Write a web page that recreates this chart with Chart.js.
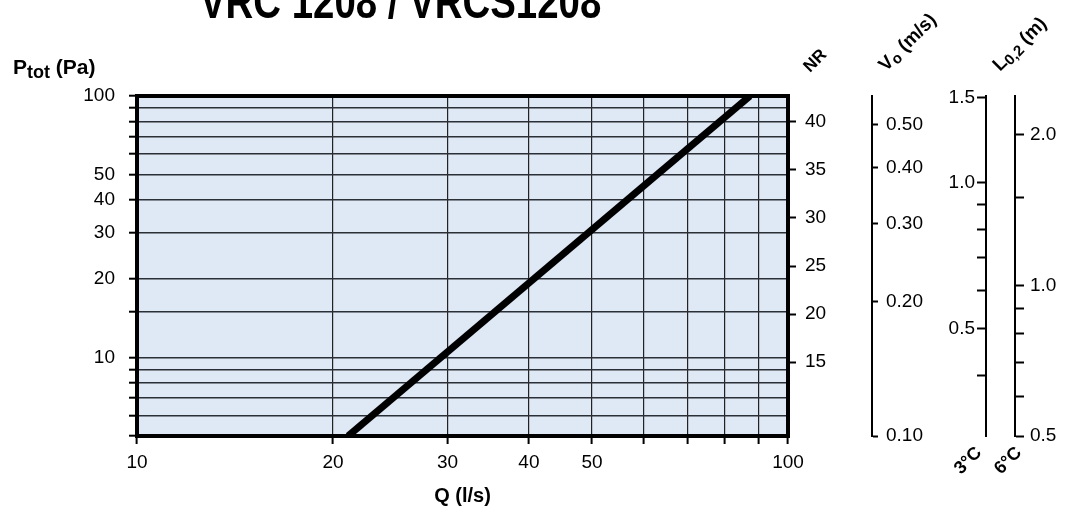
<!DOCTYPE html>
<html>
<head>
<meta charset="utf-8">
<script src="https://cdn.jsdelivr.net/npm/chart.js@4.4.1/dist/chart.umd.min.js"></script>
<style>
  html, body { margin: 0; padding: 0; background: #fff; }
</style>
</head>
<body>
<canvas id="chartCanvas" width="1072" height="513"></canvas>
<script>
// pressure line: Q (l/s) -> Ptot (Pa)
const lineQ = [21.1, 87.4];
const lineP = [5, 100];

const qTicks = [10, 20, 30, 40, 50, 60, 70, 80, 90, 100];
const qLabels = [10, 20, 30, 40, 50, 100];
const pTicks = [5, 6, 7, 8, 9, 10, 15, 20, 30, 40, 50, 60, 70, 80, 90, 100];
const pLabels = [10, 20, 30, 40, 50, 100];

// side scales
const nrTicks = [15, 20, 25, 30, 35, 40];
const nrRange = [7.3, 42.7];
const voTicks = [0.1, 0.2, 0.3, 0.4, 0.5];
const voRange = [0.1, 0.58];
const l3Ticks = [0.4, 0.5, 0.6, 0.7, 0.8, 0.9, 1.0, 1.5];
const l3Labels = [0.5, 1.0, 1.5];
const l3Range = [0.305, 1.51];
const l6Ticks = [0.5, 0.6, 0.7, 0.8, 0.9, 1.0, 1.5, 2.0];
const l6Labels = [0.5, 1.0, 2.0];
const l6Range = [0.5, 2.39];

const FONT = '"Liberation Sans", Arial, sans-serif';
const tickFont = { family: FONT, size: 19 };

const setTicks = list => scale => { scale.ticks = list.map(v => ({ value: v })); };
const setWidth = w => scale => { scale.width = w; };
const labelsFor = (list, digits) => v => list.includes(v) ? v.toFixed(digits) : '';

function sideAxis(type, range, ticks, fmt, width, weight, extra) {
  return Object.assign({
    type: type,
    axis: 'y',
    position: 'right',
    weight: weight,
    min: range[0],
    max: range[1],
    afterBuildTicks: setTicks(ticks),
    afterFit: setWidth(width),
    grid: { drawOnChartArea: false, drawTicks: true, tickLength: 6, tickWidth: 2, tickColor: '#000' },
    border: { display: true, color: '#000', width: 2 },
    ticks: { font: tickFont, color: '#000', padding: 8, autoSkip: false, callback: fmt }
  }, extra || {});
}

function rotText(ctx, parts, x, y) {
  ctx.save();
  ctx.translate(x, y);
  ctx.rotate(-Math.PI / 4);
  ctx.fillStyle = '#000';
  ctx.textBaseline = 'alphabetic';
  let cx = 0;
  for (const [t, size, dy] of parts) {
    ctx.font = 'bold ' + size + 'px ' + FONT;
    ctx.fillText(t, cx, dy);
    cx += ctx.measureText(t).width;
  }
  ctx.restore();
}

const decor = {
  id: 'decor',
  beforeDraw(chart) {
    const { ctx, chartArea: a } = chart;
    ctx.save();
    ctx.fillStyle = '#dfe8f5';
    ctx.fillRect(a.left, a.top, a.right - a.left, a.bottom - a.top);
    ctx.restore();
  },
  afterDatasetsDraw(chart) {
    const { ctx, chartArea: a } = chart;
    ctx.save();
    ctx.strokeStyle = '#000';
    ctx.lineWidth = 4;
    ctx.strokeRect(a.left, a.top, a.right - a.left, a.bottom - a.top);
    ctx.restore();
  },
  afterDraw(chart) {
    const ctx = chart.ctx;
    // title, mostly cut off at the top edge
    ctx.save();
    ctx.fillStyle = '#000';
    ctx.translate(200, 18);
    ctx.scale(0.8, 1);
    ctx.font = 'bold 48px ' + FONT;
    ctx.fillText('VRC 1208 / VRCS1208', 0, 0);
    ctx.restore();

    // Ptot (Pa)
    ctx.save();
    ctx.fillStyle = '#000';
    let x = 13;
    ctx.font = 'bold 21px ' + FONT;
    ctx.fillText('P', x, 74);
    x += ctx.measureText('P').width;
    ctx.font = 'bold 18px ' + FONT;
    ctx.fillText('tot', x, 78);
    x += ctx.measureText('tot').width;
    ctx.font = 'bold 21px ' + FONT;
    ctx.fillText(' (Pa)', x, 74);
    ctx.restore();

    rotText(ctx, [['NR', 17, 0]], 810, 73);
    rotText(ctx, [['V', 19, 0], ['o', 15, 3], [' (m/s)', 19, 0]], 886, 72);
    rotText(ctx, [['L', 19, 0], ['0,2', 15, 3], [' (m)', 19, 0]], 1000, 72);
    rotText(ctx, [['3°C', 18, 0]], 961, 475);
    rotText(ctx, [['6°C', 18, 0]], 1001, 475);
  }
};

new Chart(document.getElementById('chartCanvas').getContext('2d'), {
  type: 'line',
  data: {
    datasets: [{
      data: lineQ.map((q, i) => ({ x: q, y: lineP[i] })),
      borderColor: '#000',
      borderWidth: 7,
      borderCapStyle: 'butt',
      pointRadius: 0,
      xAxisID: 'x',
      yAxisID: 'y'
    }]
  },
  options: {
    responsive: false,
    animation: false,
    layout: { padding: { top: 96, left: 0, right: 0, bottom: 0 } },
    plugins: { legend: { display: false }, tooltip: { enabled: false } },
    scales: {
      x: {
        type: 'logarithmic',
        position: 'bottom',
        min: 10,
        max: 100,
        afterBuildTicks: setTicks(qTicks),
        afterFit: scale => { scale.height = 77; },
        grid: { color: '#222', lineWidth: 1.2, drawTicks: true, tickLength: 8, tickWidth: 2, tickColor: '#000' },
        border: { display: false },
        ticks: { font: tickFont, color: '#000', padding: 7, autoSkip: false, maxRotation: 0, callback: labelsFor(qLabels, 0) },
        title: { display: true, text: 'Q (l/s)', color: '#000', font: { family: FONT, size: 20, weight: 'bold' }, padding: { top: 0, bottom: 5 } }
      },
      y: {
        type: 'logarithmic',
        position: 'left',
        min: 5,
        max: 100,
        afterBuildTicks: setTicks(pTicks),
        afterFit: setWidth(137),
        grid: { color: '#2b2f36', lineWidth: 1.4, drawTicks: true, tickLength: 8, tickWidth: 2, tickColor: '#000' },
        border: { display: false },
        ticks: { font: tickFont, color: '#000', padding: 14, autoSkip: false, callback: labelsFor(pLabels, 0) }
      },
      nr: sideAxis('linear', nrRange, nrTicks, v => nrTicks.includes(v) ? String(v) : '', 84, 0, {
        border: { display: false },
        grid: { drawOnChartArea: false, drawTicks: true, tickLength: 8, tickWidth: 2, tickColor: '#000' },
        ticks: { font: tickFont, color: '#000', padding: 9, autoSkip: false, callback: v => nrTicks.includes(v) ? String(v) : '' }
      }),
      vo: sideAxis('logarithmic', voRange, voTicks, v => v.toFixed(2), 114, 1),
      l3: sideAxis('logarithmic', l3Range, l3Ticks, labelsFor(l3Labels, 1), 29, 2, {
        grid: { drawOnChartArea: false, drawTicks: true, tickLength: -9, tickWidth: 2, tickColor: '#000' },
        ticks: { font: tickFont, color: '#000', padding: -11, mirror: true, autoSkip: false, callback: labelsFor(l3Labels, 1) }
      }),
      l6: sideAxis('logarithmic', l6Range, l6Ticks, labelsFor(l6Labels, 1), 57, 3, {
        grid: { drawOnChartArea: false, drawTicks: true, tickLength: 9, tickWidth: 2, tickColor: '#000' },
        ticks: { font: tickFont, color: '#000', padding: 6, autoSkip: false, callback: labelsFor(l6Labels, 1) }
      })
    }
  },
  plugins: [decor]
});
</script>
</body>
</html>
